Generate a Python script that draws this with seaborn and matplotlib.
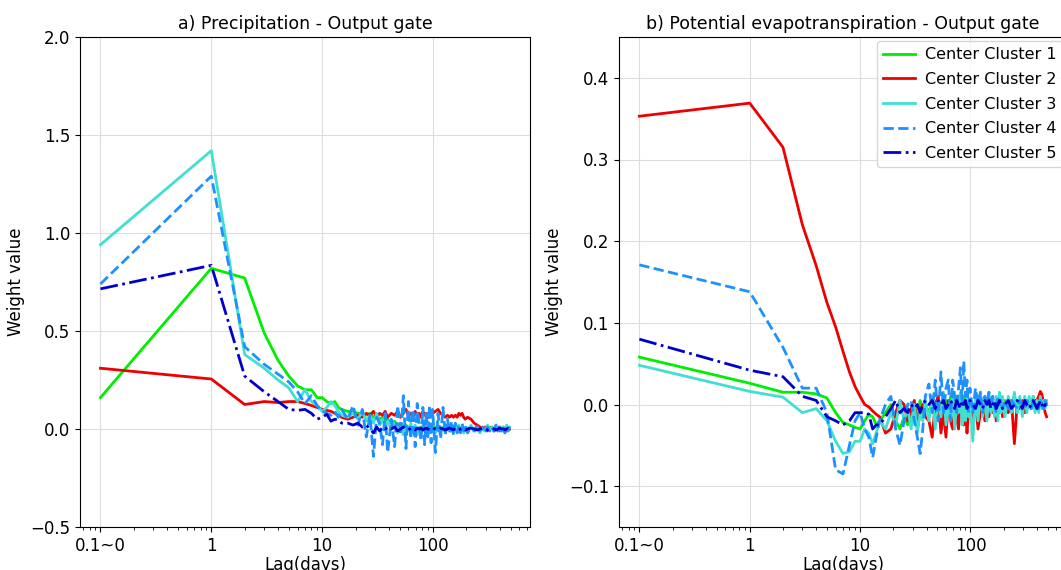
import numpy as np
import pandas as pd
import seaborn as sns
from matplotlib import pyplot as plt

# lags (days); lag 0 is drawn at x=0.1 on the log axis
lags = [0, 1, 2, 3, 4, 5, 6, 7, 8, 9, 10, 11, 12, 13, 14, 15,
        17, 19, 21, 23, 25, 27, 29, 31, 33, 35, 37, 39,
        42, 45, 48, 51, 54, 57, 60, 63, 66, 69, 72, 75, 78, 81, 84, 87, 90, 93, 96, 99,
        105, 111, 117, 123, 129, 135, 141, 147, 153, 159, 165, 171, 177, 183, 189, 195,
        205, 220, 235, 250, 265, 280, 295, 310, 325, 340, 355, 370, 385, 400, 415, 430, 445, 460, 475, 490]

clusters = ['Center Cluster 1', 'Center Cluster 2', 'Center Cluster 3',
            'Center Cluster 4', 'Center Cluster 5']

# a) precipitation - output gate
prec_c1 = [0.16, 0.82, 0.77, 0.49, 0.35, 0.27, 0.22, 0.20, 0.20, 0.16, 0.16, 0.14, 0.13, 0.14, 0.11, 0.10,
           0.09, 0.09, 0.08, 0.08, 0.07, 0.08, 0.06, 0.07, 0.05, 0.06, 0.04, 0.05,
           0.03, 0.04, 0.02, 0.03, 0.01, 0.02, 0.0, 0.01, -0.01, 0.01, 0.0, -0.01, 0.01, 0.0, -0.01, 0.01, 0.0, 0.01, -0.01, 0.0,
           0.01, -0.01, 0.0, 0.01, -0.01, 0.0, 0.01, -0.01, 0.0, 0.01, 0.0, -0.01, 0.0, 0.01, 0.0, -0.01,
           0.0, 0.01, -0.01, 0.0, 0.01, 0.0, -0.01, 0.0, 0.01, 0.0, -0.01, 0.0, 0.01, 0.0, 0.0, -0.01, 0.0, 0.01, 0.0, 0.0]
prec_c2 = [0.31, 0.255, 0.125, 0.14, 0.135, 0.14, 0.14, 0.13, 0.12, 0.11, 0.10, 0.095, 0.09, 0.08, 0.07, 0.06,
           0.05, 0.06, 0.07, 0.06, 0.08, 0.07, 0.09, 0.06, 0.08, 0.07, 0.09, 0.06,
           0.08, 0.07, 0.09, 0.06, 0.08, 0.10, 0.07, 0.08, 0.06, 0.09, 0.07, 0.08, 0.06, 0.09, 0.07, 0.08, 0.06, 0.09, 0.07, 0.08,
           0.09, 0.10, 0.08, 0.07, 0.06, 0.07, 0.06, 0.07, 0.06, 0.07, 0.06, 0.08, 0.07, 0.08, 0.06, 0.05,
           0.06, 0.05, 0.03, 0.02, 0.01, 0.0, 0.01, -0.01, 0.0, 0.01, -0.01, 0.0, 0.01, -0.01, 0.0, 0.01, 0.0, -0.01, 0.0, 0.0]
prec_c3 = [0.94, 1.42, 0.38, 0.31, 0.25, 0.21, 0.14, 0.20, 0.14, 0.12, 0.09, 0.11, 0.14, 0.12, 0.09, 0.07,
           0.06, 0.08, 0.05, 0.09, 0.04, 0.07, 0.03, 0.08, 0.02, 0.05, 0.01, 0.04,
           0.0, 0.03, -0.02, 0.02, -0.03, 0.01, -0.01, 0.03, -0.02, 0.02, -0.03, 0.01, -0.02, 0.02, -0.01, 0.02, -0.03, 0.01, -0.02, 0.01,
           -0.02, 0.02, -0.01, 0.01, -0.02, 0.02, -0.01, 0.01, -0.02, 0.01, -0.01, 0.02, -0.01, 0.01, -0.02, 0.01,
           -0.01, 0.02, -0.01, 0.01, -0.02, 0.01, -0.01, 0.02, -0.01, 0.01, -0.01, 0.02, -0.01, 0.01, -0.01, 0.01, -0.01, 0.02, -0.01, 0.01]
prec_c4 = [0.74, 1.29, 0.42, 0.33, 0.28, 0.24, 0.19, 0.13, 0.17, 0.12, 0.09, 0.08, 0.07, 0.09, 0.06, 0.10,
           0.05, 0.12, 0.02, 0.10, -0.04, 0.07, -0.14, 0.06, 0.03, -0.08, 0.08, -0.12,
           0.05, -0.09, 0.12, -0.03, 0.17, -0.10, 0.14, -0.05, 0.10, -0.09, 0.13, 0.02, -0.06, 0.11, -0.08, 0.09, -0.04, 0.12, -0.07, 0.10,
           -0.12, 0.08, -0.05, 0.11, -0.03, 0.05, -0.02, 0.04, -0.03, 0.03, -0.02, 0.02, -0.02, 0.03, -0.01, 0.02,
           -0.02, 0.01, -0.01, 0.02, -0.01, 0.01, -0.02, 0.01, -0.01, 0.01, -0.01, 0.02, -0.01, 0.01, -0.01, 0.01, -0.02, 0.01, -0.01, 0.01]
prec_c5 = [0.715, 0.835, 0.27, 0.19, 0.14, 0.10, 0.095, 0.10, 0.08, 0.05, 0.06, 0.075, 0.04, 0.05, 0.045, 0.03,
           0.03, 0.02, 0.03, 0.01, 0.02, 0.0, -0.02, 0.01, -0.01, 0.01, 0.0, 0.01,
           0.0, 0.01, -0.01, 0.0, 0.01, 0.0, -0.005, 0.005, 0.0, -0.005, 0.005, 0.0, 0.005, -0.005, 0.0, 0.005, 0.0, -0.005, 0.0, 0.005,
           0.0, -0.005, 0.005, 0.0, -0.005, 0.0, 0.005, 0.0, -0.005, 0.005, 0.0, -0.005, 0.0, 0.005, 0.0, -0.005,
           0.0, 0.005, 0.0, -0.005, 0.0, 0.005, 0.0, -0.005, 0.0, 0.005, 0.0, -0.005, 0.0, 0.005, 0.0, 0.0, -0.005, 0.0, 0.005, 0.0]

# b) potential evapotranspiration - output gate
pet_c1 = [0.058, 0.026, 0.015, 0.015, 0.013, 0.008, -0.01, -0.022, -0.025, -0.028, -0.03, -0.02, -0.012, -0.015, -0.025, -0.02,
          -0.01, 0.0, -0.02, -0.03, -0.015, -0.025, -0.01, 0.0, -0.02, 0.005, -0.01, 0.0,
          -0.01, 0.005, -0.005, 0.01, -0.01, 0.0, 0.005, -0.01, 0.01, -0.005, 0.0, 0.01, -0.01, 0.005, 0.0, -0.005, 0.01, -0.01, 0.0, 0.005,
          -0.005, 0.0, 0.01, -0.01, 0.005, 0.0, -0.005, 0.01, -0.01, 0.0, 0.005, -0.005, 0.0, 0.01, -0.005, 0.0,
          0.005, -0.005, 0.0, 0.01, -0.01, 0.005, 0.0, -0.005, 0.005, 0.0, -0.005, 0.01, 0.0, -0.005, 0.005, 0.0, -0.005, 0.005, 0.0, 0.0]
pet_c2 = [0.353, 0.369, 0.315, 0.22, 0.17, 0.125, 0.095, 0.065, 0.04, 0.022, 0.01, 0.0, -0.003, -0.008, -0.012, -0.015,
          -0.035, -0.03, -0.01, 0.005, 0.0, -0.02, -0.005, 0.005, -0.03, -0.01, 0.0, -0.015,
          -0.02, -0.04, 0.0, 0.01, -0.035, -0.01, -0.04, 0.005, -0.02, -0.03, 0.0, -0.015, -0.03, 0.005, -0.01, -0.025, 0.0, -0.035, -0.01, 0.0,
          -0.02, 0.005, -0.03, -0.01, 0.0, -0.02, 0.005, -0.015, 0.0, -0.01, 0.005, -0.02, 0.0, -0.01, 0.005, -0.015,
          0.0, -0.01, 0.005, -0.048, 0.0, -0.005, 0.005, -0.01, 0.0, 0.005, -0.005, 0.0, 0.005, 0.005, 0.01, 0.016, 0.012, 0.0, -0.01, -0.015]
pet_c3 = [0.048, 0.016, 0.009, -0.01, -0.005, -0.02, -0.045, -0.06, -0.058, -0.045, -0.045, -0.03, -0.035, -0.048, -0.035, -0.02,
          -0.03, -0.01, -0.025, 0.005, -0.02, -0.005, -0.03, 0.0, -0.035, -0.01, -0.02, 0.005,
          -0.02, 0.01, -0.03, 0.005, -0.015, 0.015, -0.025, 0.0, -0.02, 0.01, -0.03, 0.005, -0.01, 0.015, -0.025, 0.0, -0.02, 0.01, -0.015, 0.005,
          -0.045, 0.01, -0.02, 0.015, -0.015, 0.01, -0.02, 0.015, -0.01, 0.01, -0.015, 0.01, -0.02, 0.015, -0.01, 0.01,
          -0.015, 0.01, -0.01, 0.015, -0.01, 0.01, -0.015, 0.01, -0.01, 0.01, -0.005, 0.01, -0.01, 0.005, -0.01, 0.01, -0.005, 0.005, -0.005, 0.005]
pet_c4 = [0.171, 0.138, 0.07, 0.02, 0.02, -0.01, -0.08, -0.085, -0.05, -0.02, -0.01, -0.03, -0.04, -0.065, -0.04, -0.02,
          0.0, 0.01, -0.03, -0.05, -0.02, 0.0, 0.005, -0.02, -0.04, -0.06, -0.03, 0.01,
          0.025, -0.01, 0.03, -0.02, 0.04, -0.01, 0.02, 0.03, -0.02, 0.03, 0.01, -0.01, 0.02, 0.045, 0.0, 0.053, 0.01, 0.03, -0.01, 0.02,
          -0.01, 0.02, 0.0, 0.015, -0.01, 0.01, 0.0, 0.015, -0.005, 0.01, 0.0, -0.01, 0.01, 0.0, 0.005, -0.005,
          0.005, -0.005, 0.005, 0.0, -0.005, 0.005, 0.0, -0.005, 0.005, 0.0, -0.005, 0.005, 0.0, 0.0, -0.005, 0.005, 0.0, -0.005, 0.005, 0.0]
pet_c5 = [0.08, 0.042, 0.034, 0.01, 0.005, -0.015, -0.02, -0.025, -0.02, -0.01, -0.01, -0.01, -0.012, -0.03, -0.025, -0.025,
          -0.015, -0.005, 0.005, -0.01, -0.005, -0.01, 0.0, -0.005, 0.0, -0.01, 0.0, 0.005,
          0.0, 0.005, -0.005, 0.005, 0.0, 0.005, -0.005, 0.0, 0.005, 0.0, -0.005, 0.005, 0.0, -0.005, 0.005, 0.0, 0.005, -0.005, 0.0, 0.005,
          0.0, -0.005, 0.005, 0.0, -0.005, 0.005, 0.0, 0.005, -0.005, 0.0, 0.005, -0.005, 0.0, 0.005, 0.0, -0.005,
          0.0, 0.005, -0.005, 0.0, 0.005, 0.0, -0.005, 0.005, 0.0, -0.005, 0.0, 0.005, 0.0, -0.005, 0.0, 0.005, 0.0, -0.005, 0.0, 0.0]

colors = ['#00ee00', '#ee0000', 'turquoise', 'dodgerblue', 'mediumblue']
styles = ['-', '-', '-', '--', '-.']

x = [0.1 if l == 0 else l for l in lags]

fig = plt.figure(figsize=(10.61, 5.70), dpi=100)
ax1 = fig.add_axes([80 / 1061, 43 / 570, 450 / 1061, 490 / 570])
ax2 = fig.add_axes([619 / 1061, 43 / 570, 448 / 1061, 490 / 570])

panels = [
    (ax1, [prec_c1, prec_c2, prec_c3, prec_c4, prec_c5], 'a) Precipitation - Output gate'),
    (ax2, [pet_c1, pet_c2, pet_c3, pet_c4, pet_c5], 'b) Potential evapotranspiration - Output gate'),
]

for ax, series, title in panels:
    for name, vals, c, ls in zip(clusters, series, colors, styles):
        df = pd.DataFrame({'lag': x, 'w': vals})
        sns.lineplot(data=df, x='lag', y='w', ax=ax, color=c, linestyle=ls,
                     linewidth=2, label=name)
    ax.set_xscale('log')
    ax.set_xticks([0.1, 1, 10, 100])
    ax.set_xticklabels(['0.1~0', '1', '10', '100'])
    ax.grid(True, color='#dddddd', linewidth=0.8)
    ax.set_axisbelow(True)
    ax.set_title(title, fontsize=12.5)
    ax.set_xlabel('Lag(days)', fontsize=12, labelpad=1)
    ax.set_ylabel('Weight value', fontsize=12)
    ax.tick_params(labelsize=12)

ax1.set_ylim(-0.5, 2.0)
ax1.set_yticks([-0.5, 0.0, 0.5, 1.0, 1.5, 2.0])
ax1.get_legend().remove()
ax2.set_ylim(-0.15, 0.45)
ax2.set_yticks([-0.1, 0.0, 0.1, 0.2, 0.3, 0.4])
ax2.legend(loc='upper right', fontsize=11.5, handlelength=2.0, handletextpad=0.6,
           labelspacing=0.6, borderaxespad=0.25)

fig.savefig('out.png', dpi=100)
